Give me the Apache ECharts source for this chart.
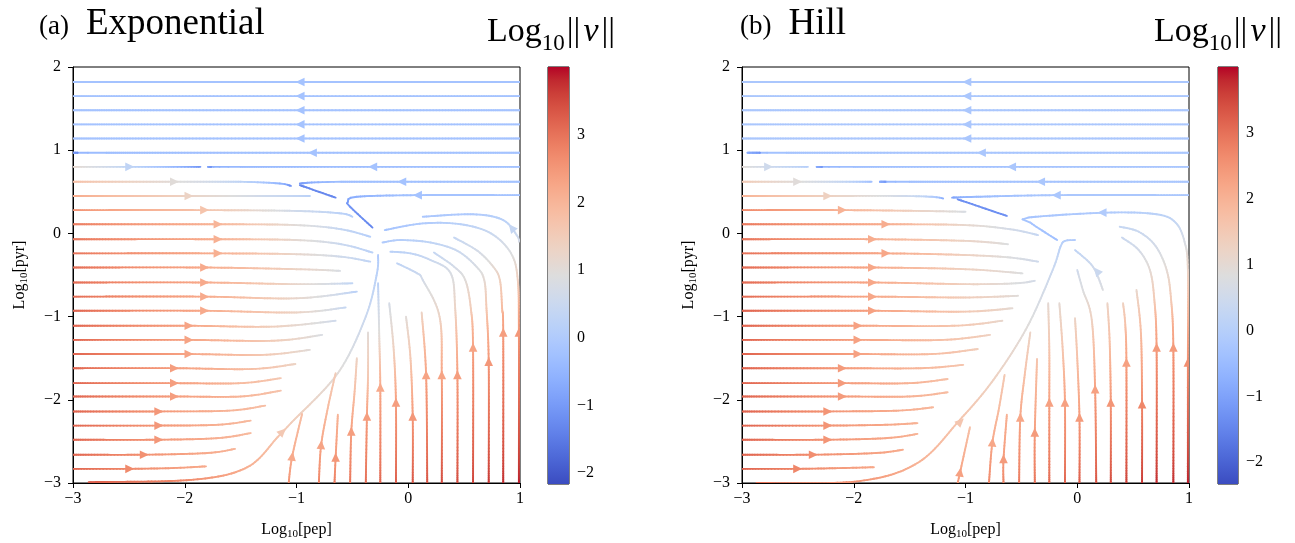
<!DOCTYPE html>
<html><head><meta charset="utf-8">
<script src="https://cdn.jsdelivr.net/npm/echarts@6/dist/echarts.min.js"></script>
<style>html,body{margin:0;padding:0;background:#fff}#c{width:1295px;height:543px}</style>
</head><body><div id="c"></div>
<script>
// ---------- axis ticks ----------
const xTicks = [-3, -2, -1, 0, 1];
const yTicks = [-3, -2, -1, 0, 1, 2];
const cbarTicks = [-2, -1, 0, 1, 2, 3];
const rangeA = [-2.16, 4.0];
const rangeB = [-2.33, 4.0];
const titlesA = ['(a)', 'Exponential'];
const titlesB = ['(b)', 'Hill'];

// ---------- panel (a) streamlines: [x, y, log10|v|] ----------
const streamsA = [
 [[1,1.82,-0.2],[-3,1.82,-0.2]],
 [[1,1.65,-0.2],[-3,1.65,-0.2]],
 [[1,1.48,-0.2],[-3,1.48,-0.2]],
 [[1,1.31,-0.2],[-3,1.31,-0.2]],
 [[1,1.14,-0.2],[-3,1.14,-0.2]],
 [[1,0.97,-0.2],[-2.7,0.97,-0.3],[-2.96,0.97,-1.3]],
 [[1,0.80,-0.2],[-1.5,0.80,-0.4],[-1.77,0.80,-1.1]],
 [[-3,0.80,1.2],[-2.5,0.80,0.3],[-2.1,0.80,-0.4],[-1.86,0.80,-1.1]],
 [[1,0.62,-0.2],[-0.6,0.62,-0.3],[-0.97,0.60,-1.0]],
 [[-3,0.62,1.8],[-2.1,0.62,1.0],[-1.5,0.62,0.3],[-1.15,0.60,-0.5],[-1.05,0.57,-1.2]],
 [[-0.97,0.58,-1.3],[-0.65,0.43,-1.3]],
 [[1,0.46,-0.2],[0.09,0.46,-0.2],[-0.46,0.44,-0.6],[-0.54,0.38,-0.9],[-0.52,0.32,-1.1],[-0.32,0.07,-1.3]],
 [[-3,0.45,2.2],[-1.97,0.45,1.3],[-1.3,0.45,0.6],[-0.88,0.45,0.2]],
 [[-3,0.28,2.6],[-1.83,0.28,1.7],[-1,0.27,0.6],[-0.6,0.24,0.2],[-0.5,0.20,0.1]],
 [[-3,0.11,2.9],[-1.71,0.11,2.0],[-1,0.10,1.0],[-0.6,0.05,0.4],[-0.34,-0.04,0.1]],
 [[-3,-0.07,3.0],[-1.71,-0.07,2.1],[-1,-0.08,1.1],[-0.6,-0.13,0.5],[-0.32,-0.23,0.2]],
 [[-3,-0.24,3.0],[-1.71,-0.24,2.1],[-1,-0.25,1.2],[-0.6,-0.28,0.6],[-0.34,-0.34,0.3]],
 [[-3,-0.41,3.1],[-1.83,-0.41,2.2],[-1,-0.43,1.3],[-0.61,-0.45,0.8]],
 [[-3,-0.59,3.1],[-1.83,-0.59,2.2],[-1,-0.61,1.2],[-0.5,-0.60,0.3]],
 [[-3,-0.76,3.1],[-1.83,-0.76,2.2],[-1,-0.78,1.2],[-0.46,-0.70,0.2]],
 [[-3,-0.93,3.2],[-1.83,-0.93,2.2],[-1,-0.95,1.3],[-0.56,-0.89,0.4]],
 [[-3,-1.11,3.2],[-1.97,-1.11,2.3],[-1.2,-1.12,1.4],[-0.65,-1.05,0.6]],
 [[-3,-1.28,3.2],[-1.97,-1.28,2.3],[-1.2,-1.29,1.5],[-0.77,-1.22,0.8]],
 [[-3,-1.45,3.2],[-1.97,-1.45,2.3],[-1.3,-1.46,1.6],[-0.88,-1.40,1.0]],
 [[-3,-1.62,3.2],[-2.1,-1.62,2.4],[-1.4,-1.63,1.8],[-1.01,-1.57,1.3]],
 [[-3,-1.80,3.2],[-2.1,-1.80,2.4],[-1.5,-1.80,1.9],[-1.14,-1.74,1.6]],
 [[-3,-1.96,3.2],[-2.1,-1.96,2.4],[-1.5,-1.96,2.0],[-1.14,-1.89,1.7]],
 [[-3,-2.14,3.2],[-2.24,-2.14,2.5],[-1.6,-2.13,2.0],[-1.28,-2.07,1.8]],
 [[-3,-2.31,3.2],[-2.24,-2.31,2.5],[-1.7,-2.30,2.1],[-1.41,-2.25,1.9]],
 [[-3,-2.48,3.2],[-2.24,-2.48,2.5],[-1.7,-2.46,2.1],[-1.41,-2.40,1.9]],
 [[-3,-2.66,3.2],[-2.37,-2.66,2.6],[-1.8,-2.64,2.2],[-1.55,-2.59,2.0]],
 [[-3,-2.83,3.2],[-2.5,-2.83,2.7],[-2.1,-2.82,2.4],[-1.81,-2.80,2.2]],
 [[-2.86,-2.99,3.3],[-1.92,-2.96,2.6],[-1.44,-2.81,2.1],[-1.17,-2.45,1.7],[-1.05,-2.28,1.5],[-0.63,-1.68,1.0],[-0.38,-1.0,0.5],[-0.28,-0.48,0.2],[-0.27,-0.26,0.0]],
 [[-1.07,-3,2.6],[-1.04,-2.69,2.2],[-0.95,-2.17,1.8]],
 [[-0.80,-3,2.8],[-0.78,-2.55,2.3],[-0.72,-2.1,1.9],[-0.65,-1.68,1.5]],
 [[-0.66,-3,2.9],[-0.65,-2.70,2.5],[-0.63,-2.18,2.0]],
 [[-0.52,-3,3.0],[-0.51,-2.39,2.4],[-0.48,-1.9,1.8],[-0.46,-1.5,1.3]],
 [[-0.38,-3,3.1],[-0.37,-2.21,2.4],[-0.36,-1.7,1.6],[-0.36,-1.19,1.0]],
 [[-0.25,-3,3.2],[-0.25,-1.86,2.2],[-0.26,-1.2,1.0],[-0.27,-0.6,0.2]],
 [[-0.11,-3,3.3],[-0.11,-2.04,2.4],[-0.13,-1.4,1.4],[-0.17,-0.84,0.7]],
 [[0.04,-3,3.4],[0.04,-2.21,2.5],[0.02,-1.5,1.6],[-0.02,-1.0,1.0]],
 [[0.17,-3,3.4],[0.16,-1.71,2.3],[0.12,-0.95,1.3]],
 [[0.30,-3,3.5],[0.30,-1.71,2.3],[0.28,-1.0,1.3],[0.13,-0.56,0.7],[0.08,-0.48,0.5],[-0.10,-0.36,0.3]],
 [[0.44,-3,3.5],[0.44,-1.71,2.4],[0.42,-0.9,1.3],[0.38,-0.48,0.8],[0.20,-0.32,0.5],[0.02,-0.24,0.3],[-0.16,-0.22,0.2]],
 [[0.58,-3,3.6],[0.58,-1.38,2.3],[0.56,-0.9,1.5],[0.51,-0.56,1.0],[0.41,-0.40,0.7],[0.23,-0.23,0.4]],
 [[0.72,-3,3.7],[0.72,-1.55,2.5],[0.70,-0.9,1.6],[0.68,-0.56,1.1],[0.61,-0.40,0.8],[0.44,-0.21,0.5],[0.20,-0.11,0.3],[-0.07,-0.08,0.1],[-0.23,-0.11,0.0]],
 [[0.85,-3,3.8],[0.85,-1.20,2.4],[0.84,-0.9,1.9],[0.82,-0.56,1.4],[0.76,-0.40,1.1],[0.62,-0.21,0.7],[0.41,-0.05,0.4]],
 [[0.99,-3,3.9],[0.99,-1.20,2.5],[0.98,-0.56,1.4],[0.92,-0.24,0.9],[0.74,0.0,0.5],[0.47,0.11,0.2],[0.13,0.12,0.0],[-0.21,0.04,-0.2]],
 [[0.99,-0.1,0.8],[0.98,-0.04,0.6],[0.85,0.16,0.2],[0.58,0.23,0.0],[0.13,0.20,-0.1]]
];
// arrows: [x, y, dx, dy, log10|v|]
const arrowsA = [
 [-0.96,1.82,-1,0,-0.2],[-0.96,1.65,-1,0,-0.2],[-0.96,1.48,-1,0,-0.2],[-0.96,1.31,-1,0,-0.2],[-0.96,1.14,-1,0,-0.2],
 [-0.85,0.97,-1,0,-0.2],[-0.31,0.80,-1,0,-0.2],[-2.5,0.80,1,0,0.3],[-0.05,0.62,-1,0,-0.2],[-2.1,0.62,1,0,1.0],
 [0.09,0.46,-1,0,-0.2],[-1.97,0.45,1,0,1.3],[-1.83,0.28,1,0,1.7],[-1.71,0.11,1,0,2.0],[-1.71,-0.07,1,0,2.1],
 [-1.71,-0.24,1,0,2.1],[-1.83,-0.41,1,0,2.2],[-1.83,-0.59,1,0,2.2],[-1.83,-0.76,1,0,2.2],[-1.83,-0.93,1,0,2.2],
 [-1.97,-1.11,1,0,2.3],[-1.97,-1.28,1,0,2.3],[-1.97,-1.45,1,0,2.3],[-2.1,-1.62,1,0,2.4],[-2.1,-1.80,1,0,2.4],
 [-2.1,-1.96,1,0,2.4],[-2.24,-2.14,1,0,2.5],[-2.24,-2.31,1,0,2.5],[-2.24,-2.48,1,0,2.5],[-2.37,-2.66,1,0,2.6],
 [-2.5,-2.83,1,0,2.7],[-1.13,-2.39,1,1.3,1.6],
 [-1.04,-2.69,0.1,1,2.2],[-0.78,-2.55,0.05,1,2.3],[-0.65,-2.70,0,1,2.5],[-0.51,-2.39,0,1,2.4],[-0.37,-2.21,0,1,2.4],
 [-0.25,-1.86,0,1,2.2],[-0.11,-2.04,0,1,2.4],[0.04,-2.21,0,1,2.5],[0.16,-1.71,0,1,2.3],[0.30,-1.71,0,1,2.3],
 [0.44,-1.71,0,1,2.4],[0.58,-1.38,0,1,2.3],[0.72,-1.55,0,1,2.5],[0.85,-1.20,0,1,2.4],[0.99,-1.20,0,1,2.5],
 [0.93,0.06,-0.6,1,0.4]
];

// ---------- panel (b) streamlines ----------
const streamsB = [
 [[1,1.82,-0.2],[-3,1.82,-0.2]],
 [[1,1.65,-0.2],[-3,1.65,-0.2]],
 [[1,1.48,-0.2],[-3,1.48,-0.2]],
 [[1,1.31,-0.2],[-3,1.31,-0.2]],
 [[1,1.14,-0.2],[-3,1.14,-0.2]],
 [[1,0.97,-0.2],[-2.6,0.97,-0.3],[-2.84,0.97,-1.3]],
 [[1,0.80,-0.2],[-2.0,0.80,-0.4],[-2.29,0.80,-1.2]],
 [[-3,0.80,1.0],[-2.77,0.80,0.5],[-2.41,0.80,0.0]],
 [[1,0.62,-0.2],[-1.5,0.62,-0.4],[-1.72,0.62,-1.2]],
 [[-3,0.62,1.5],[-2.51,0.62,0.9],[-2.1,0.62,0.3],[-1.84,0.62,-0.4]],
 [[1,0.46,-0.2],[-0.18,0.46,-0.2],[-0.9,0.44,-0.5],[-1.12,0.43,-1.0]],
 [[-3,0.45,2.0],[-2.24,0.45,1.3],[-1.6,0.45,0.6],[-1.3,0.44,0.0],[-1.2,0.42,-0.8]],
 [[-1.07,0.41,-1.3],[-0.63,0.21,-1.3]],
 [[-3,0.28,2.7],[-2.11,0.28,2.0],[-1.4,0.27,1.2],[-1.0,0.26,0.7]],
 [[-3,0.11,2.9],[-1.72,0.11,2.1],[-1.0,0.10,1.1],[-0.6,0.05,0.6],[-0.35,-0.02,0.3]],
 [[-3,-0.07,3.0],[-1.84,-0.07,2.1],[-1.0,-0.09,1.2],[-0.62,-0.13,0.8]],
 [[-3,-0.24,3.0],[-1.72,-0.24,2.2],[-1.0,-0.26,1.3],[-0.6,-0.29,0.8],[-0.35,-0.34,0.5]],
 [[-3,-0.41,3.1],[-1.84,-0.41,2.2],[-1.0,-0.43,1.3],[-0.49,-0.48,0.8]],
 [[-3,-0.59,3.1],[-1.84,-0.59,2.2],[-1.0,-0.61,1.3],[-0.55,-0.60,0.8],[-0.38,-0.57,0.6]],
 [[-3,-0.76,3.1],[-1.84,-0.76,2.2],[-1.0,-0.77,1.4],[-0.53,-0.75,0.9]],
 [[-3,-0.93,3.2],[-1.84,-0.93,2.3],[-1.0,-0.94,1.5],[-0.58,-0.90,1.0]],
 [[-3,-1.11,3.2],[-1.97,-1.11,2.3],[-1.1,-1.11,1.6],[-0.67,-1.05,1.1]],
 [[-3,-1.28,3.2],[-1.97,-1.28,2.3],[-1.2,-1.28,1.7],[-0.78,-1.22,1.3]],
 [[-3,-1.45,3.2],[-1.97,-1.45,2.3],[-1.3,-1.45,1.8],[-0.89,-1.39,1.4]],
 [[-3,-1.62,3.2],[-2.11,-1.62,2.4],[-1.4,-1.62,1.9],[-1.02,-1.58,1.6]],
 [[-3,-1.80,3.2],[-2.11,-1.80,2.4],[-1.5,-1.80,2.0],[-1.16,-1.75,1.7]],
 [[-3,-1.96,3.2],[-2.11,-1.96,2.4],[-1.5,-1.96,2.0],[-1.16,-1.91,1.8]],
 [[-3,-2.14,3.2],[-2.24,-2.14,2.5],[-1.6,-2.13,2.1],[-1.29,-2.09,1.9]],
 [[-3,-2.31,3.2],[-2.24,-2.31,2.5],[-1.7,-2.30,2.2],[-1.43,-2.28,2.0]],
 [[-3,-2.48,3.2],[-2.24,-2.48,2.5],[-1.7,-2.46,2.2],[-1.43,-2.41,2.0]],
 [[-3,-2.66,3.2],[-2.37,-2.66,2.6],[-1.8,-2.64,2.3],[-1.56,-2.60,2.1]],
 [[-3,-2.83,3.2],[-2.51,-2.83,2.7],[-2.1,-2.82,2.4],[-1.82,-2.81,2.2]],
 [[-2.87,-3.0,3.0],[-1.97,-2.98,2.5],[-1.43,-2.76,2.0],[-1.05,-2.24,1.6],[-0.75,-1.76,1.3],[-0.45,-1.13,0.9],[-0.22,-0.44,0.4],[-0.15,-0.16,0.1],[-0.11,-0.09,0.0],[-0.02,-0.08,-0.1]],
 [[-1.07,-3,2.5],[-1.05,-2.88,2.3],[-0.96,-2.33,1.7]],
 [[-0.79,-3,2.7],[-0.76,-2.52,2.2],[-0.70,-2.1,1.8],[-0.65,-1.70,1.5]],
 [[-0.66,-3,2.8],[-0.66,-2.72,2.4],[-0.63,-2.18,2.0]],
 [[-0.52,-3,2.9],[-0.51,-2.22,2.2],[-0.47,-1.7,1.7],[-0.42,-1.19,1.2]],
 [[-0.38,-3,3.0],[-0.38,-2.40,2.4],[-0.36,-1.51,1.6]],
 [[-0.25,-3,3.1],[-0.25,-2.04,2.3],[-0.25,-1.4,1.6],[-0.26,-0.84,1.0]],
 [[-0.11,-3,3.2],[-0.11,-2.04,2.3],[-0.13,-1.4,1.6],[-0.16,-0.84,1.0]],
 [[0.02,-3,3.3],[0.02,-2.22,2.4],[0.0,-1.5,1.7],[-0.02,-1.02,1.2]],
 [[0.17,-3,3.4],[0.16,-1.88,2.3],[0.13,-1.04,1.3],[0.05,-0.68,0.8],[0.0,-0.44,0.5]],
 [[0.30,-3,3.5],[0.30,-2.04,2.5],[0.29,-1.3,1.7],[0.27,-0.84,1.2]],
 [[0.44,-3,3.6],[0.44,-1.56,2.3],[0.43,-1.1,1.7],[0.41,-0.84,1.3]],
 [[0.58,-3,3.7],[0.58,-2.06,2.7],[0.57,-1.2,1.8],[0.53,-0.68,1.1]],
 [[0.71,-3,3.8],[0.71,-1.38,2.4],[0.69,-0.8,1.5],[0.65,-0.44,1.0],[0.55,-0.2,0.6],[0.40,-0.05,0.4]],
 [[0.86,-3,3.8],[0.86,-1.38,2.4],[0.84,-0.8,1.5],[0.80,-0.44,1.0],[0.70,-0.15,0.6],[0.55,0.02,0.4],[0.38,0.08,0.3]],
 [[0.99,-3,3.9],[0.99,-1.56,2.6],[0.99,-0.44,1.2],[0.96,-0.1,0.7],[0.88,0.13,0.3],[0.71,0.23,0.1],[0.27,0.25,-0.1],[-0.44,0.19,-0.3],[-0.42,0.13,-0.3],[-0.18,-0.08,-0.4]],
 [[0.23,-0.68,0.8],[0.14,-0.40,0.5],[-0.02,-0.20,0.2]]
];
const arrowsB = [
 [-0.98,1.82,-1,0,-0.2],[-0.98,1.65,-1,0,-0.2],[-0.98,1.48,-1,0,-0.2],[-0.98,1.31,-1,0,-0.2],[-0.98,1.14,-1,0,-0.2],
 [-0.85,0.97,-1,0,-0.2],[-0.58,0.80,-1,0,-0.2],[-2.77,0.80,1,0,0.5],[-0.32,0.62,-1,0,-0.2],[-2.51,0.62,1,0,0.9],
 [-0.18,0.46,-1,0,-0.2],[-2.24,0.45,1,0,1.3],[-2.11,0.28,1,0,2.0],[-1.72,0.11,1,0,2.1],[-1.84,-0.07,1,0,2.1],
 [-1.72,-0.24,1,0,2.2],[-1.84,-0.41,1,0,2.2],[-1.84,-0.59,1,0,2.2],[-1.84,-0.76,1,0,2.2],[-1.84,-0.93,1,0,2.3],
 [-1.97,-1.11,1,0,2.3],[-1.97,-1.28,1,0,2.3],[-1.97,-1.45,1,0,2.3],[-2.11,-1.62,1,0,2.4],[-2.11,-1.80,1,0,2.4],
 [-2.11,-1.96,1,0,2.4],[-2.24,-2.14,1,0,2.5],[-2.24,-2.31,1,0,2.5],[-2.24,-2.48,1,0,2.5],[-2.37,-2.66,1,0,2.6],
 [-2.51,-2.83,1,0,2.7],[-1.05,-2.27,1,1.3,1.6],
 [-1.05,-2.88,0.1,1,2.3],[-0.76,-2.52,0.05,1,2.2],[-0.66,-2.72,0,1,2.4],[-0.51,-2.22,0,1,2.2],[-0.38,-2.40,0,1,2.4],
 [-0.25,-2.04,0,1,2.3],[-0.11,-2.04,0,1,2.3],[0.02,-2.22,0,1,2.4],[0.16,-1.88,0,1,2.3],[0.30,-2.04,0,1,2.5],
 [0.44,-1.56,0,1,2.3],[0.58,-2.06,0,1,2.7],[0.71,-1.38,0,1,2.4],[0.86,-1.38,0,1,2.4],[0.99,-1.56,0,1,2.6],
 [0.23,0.25,-1,0,-0.1],[0.18,-0.46,-0.6,1,0.4]
];

// ---------- coolwarm colormap ----------
const coolwarm = [[59,76,192],[68,90,204],[77,104,215],[87,117,225],[98,130,234],[108,142,241],[119,154,247],[130,165,251],[141,176,254],[152,185,255],[163,194,255],[174,201,253],[184,208,249],[194,213,244],[204,217,238],[213,219,230],[221,221,221],[229,216,209],[236,211,197],[241,204,185],[245,196,173],[247,187,160],[247,177,148],[247,166,135],[244,154,123],[241,141,111],[236,127,99],[229,112,88],[222,96,77],[213,80,66],[203,62,56],[192,40,47],[180,4,38]];
function cmap(t){
  t = Math.max(0, Math.min(1, t));
  const f = t*(coolwarm.length-1), i = Math.min(coolwarm.length-2, Math.floor(f)), r = f-i;
  const a = coolwarm[i], b = coolwarm[i+1];
  return 'rgb(' + [0,1,2].map(k => Math.round(a[k]+(b[k]-a[k])*r)).join(',') + ')';
}
const FONT = 'Liberation Serif';
const minus = v => String(v).replace('-', '\u2212');

function streamSeries(streams, range, gi){
  return {
    type:'custom', xAxisIndex:gi, yAxisIndex:gi, clip:true, silent:true,
    data: streams.map((s,i)=>[s[0][0], s[0][1], i]),
    encode:{x:0,y:1},
    renderItem:function(params, api){
      const s = streams[api.value(2)];
      const P = s.map(p=>api.coord([p[0],p[1]]));
      const children = [];
      for (let i=0;i<P.length-1;i++){
        const p0 = P[i-1]||P[i], p1=P[i], p2=P[i+1], p3=P[i+2]||P[i+1];
        const len = Math.hypot(p2[0]-p1[0], p2[1]-p1[1]);
        const n = Math.max(1, Math.ceil(len/3));
        let prev = p1;
        for (let k=1;k<=n;k++){
          const t=k/n, t2=t*t, t3=t2*t;
          const q = [0,1].map(d => 0.5*((2*p1[d]) + (-p0[d]+p2[d])*t + (2*p0[d]-5*p1[d]+4*p2[d]-p3[d])*t2 + (-p0[d]+3*p1[d]-3*p2[d]+p3[d])*t3));
          const c = s[i][2] + (s[i+1][2]-s[i][2])*(k-0.5)/n;
          children.push({type:'line', shape:{x1:prev[0],y1:prev[1],x2:q[0],y2:q[1]},
            style:{stroke:cmap((c-range[0])/(range[1]-range[0])), lineWidth:1.9, lineCap:'round'}});
          prev = q;
        }
      }
      return {type:'group', children};
    }
  };
}
function arrowSeries(arrows, range, gi){
  return {
    type:'custom', xAxisIndex:gi, yAxisIndex:gi, clip:true, silent:true, z:3,
    data: arrows,
    renderItem:function(params, api){
      const x=api.value(0), y=api.value(1), dx=api.value(2), dy=api.value(3), c=api.value(4);
      const p = api.coord([x,y]), q = api.coord([x+dx*0.01, y+dy*0.01]);
      let ux=q[0]-p[0], uy=q[1]-p[1]; const L=Math.hypot(ux,uy); ux/=L; uy/=L;
      const hl=9, hw=4.3;
      const tip=[p[0]+ux*hl*0.6, p[1]+uy*hl*0.6], base=[p[0]-ux*hl*0.4, p[1]-uy*hl*0.4];
      return {type:'polygon', shape:{points:[tip,[base[0]-uy*hw, base[1]+ux*hw],[base[0]+uy*hw, base[1]-ux*hw]]},
        style:{fill:cmap((c-range[0])/(range[1]-range[0]))}};
    }
  };
}
function cbarSeries(range, gi){
  const stops = coolwarm.map((c,i)=>({offset:i/(coolwarm.length-1), color:'rgb('+c.join(',')+')'}));
  return {
    type:'custom', xAxisIndex:gi, yAxisIndex:gi, silent:true,
    data:[[0, range[0], range[1]]],
    renderItem:function(params, api){
      const a = api.coord([0, api.value(2)]), b = api.coord([1, api.value(1)]);
      return {type:'rect', shape:{x:a[0], y:a[1], width:b[0]-a[0], height:b[1]-a[1]},
        style:{fill:new echarts.graphic.LinearGradient(0,1,0,0,stops)}};
    }
  };
}
const nameRich = {m:{fontFamily:FONT,fontSize:16,color:'#000',lineHeight:20}, s:{fontFamily:FONT,fontSize:11,color:'#000',lineHeight:12,verticalAlign:'bottom'}};
function mainX(gi, nm){
  return {gridIndex:gi, type:'value', min:-3, max:1, interval:1,
    axisLine:{show:true, onZero:false, lineStyle:{color:'#000', width:1}},
    axisTick:{show:true, length:5, lineStyle:{color:'#000'}},
    axisLabel:{fontFamily:FONT, fontSize:16, color:'#000', margin:8, formatter:minus},
    splitLine:{show:false}, name:'{m|Log}{s|10}{m|['+nm+']}', nameLocation:'middle', nameGap:37,
    nameTextStyle:{rich:nameRich}};
}
function mainY(gi, nm){
  return {gridIndex:gi, type:'value', min:-3, max:2, interval:1,
    axisLine:{show:true, onZero:false, lineStyle:{color:'#000', width:1}},
    axisTick:{show:true, length:5, lineStyle:{color:'#000'}},
    axisLabel:{fontFamily:FONT, fontSize:16, color:'#000', margin:12, formatter:minus},
    splitLine:{show:false}, name:nm ? '{m|Log}{s|10}{m|['+nm+']}' : '', nameLocation:'middle', nameGap:43,
    nameTextStyle:{rich:nameRich}};
}
function cbX(gi){ return {gridIndex:gi, type:'value', min:0, max:1, show:false}; }
function cbY(gi, range){
  return {gridIndex:gi, type:'value', min:range[0], max:range[1], position:'right',
    axisLine:{show:false}, splitLine:{show:false},
    axisTick:{show:true, length:4, lineStyle:{color:'#000'}, customValues:cbarTicks},
    axisLabel:{fontFamily:FONT, fontSize:16, color:'#000', margin:8, formatter:minus, customValues:cbarTicks}};
}
const titleRich = {p:{fontFamily:FONT, fontSize:27, color:'#000', lineHeight:40, verticalAlign:'bottom', padding:[0,17,3,0]},
                   t:{fontFamily:FONT, fontSize:37, color:'#000', lineHeight:40, verticalAlign:'bottom'}};
const logRich = {m:{fontFamily:FONT, fontSize:34, color:'#000', lineHeight:40, verticalAlign:'bottom'},
                 b:{fontFamily:FONT, fontSize:34, color:'#000', lineHeight:40, verticalAlign:'bottom', padding:[0,1,0,1]},
                 s:{fontFamily:FONT, fontSize:23, color:'#000', lineHeight:22, verticalAlign:'bottom', padding:[0,1,-6,0]},
                 i:{fontFamily:FONT, fontSize:34, fontStyle:'italic', color:'#000', lineHeight:40, verticalAlign:'bottom', padding:[0,2,0,2]}};
const gridBorder = {show:true, borderColor:'#000', borderWidth:1, backgroundColor:'transparent', containLabel:false, outerBoundsMode:'none'};
const option = {
  animation:false, backgroundColor:'#fff',
  grid:[
    Object.assign({left:73, top:67, width:447, height:416}, gridBorder),
    Object.assign({left:742, top:67, width:447, height:416}, gridBorder),
    Object.assign({left:548, top:67, width:21, height:417}, gridBorder),
    Object.assign({left:1218, top:67, width:20, height:417}, gridBorder)
  ],
  xAxis:[mainX(0,'pep'), mainX(1,'pep'), cbX(2), cbX(3)],
  yAxis:[mainY(0,'pyr'), mainY(1,'pyr'), cbY(2, rangeA), cbY(3, rangeB)],
  graphic:[
    {type:'text', left:39, top:6, style:{text:'{p|'+titlesA[0]+'}{t|'+titlesA[1]+'}', rich:titleRich}},
    {type:'text', left:740, top:6, style:{text:'{p|'+titlesB[0]+'}{t|'+titlesB[1]+'}', rich:titleRich}},
    {type:'text', left:487, top:15, style:{text:'{m|Log}{s|10}{b|||}{i|v}{b|||}', rich:logRich}},
    {type:'text', left:1154, top:15, style:{text:'{m|Log}{s|10}{b|||}{i|v}{b|||}', rich:logRich}}
  ],
  series:[
    streamSeries(streamsA, rangeA, 0), arrowSeries(arrowsA, rangeA, 0),
    streamSeries(streamsB, rangeB, 1), arrowSeries(arrowsB, rangeB, 1),
    cbarSeries(rangeA, 2), cbarSeries(rangeB, 3)
  ]
};
const chart = echarts.init(document.getElementById('c'), null, {renderer:'canvas'});
chart.setOption(option);
</script></body></html>
